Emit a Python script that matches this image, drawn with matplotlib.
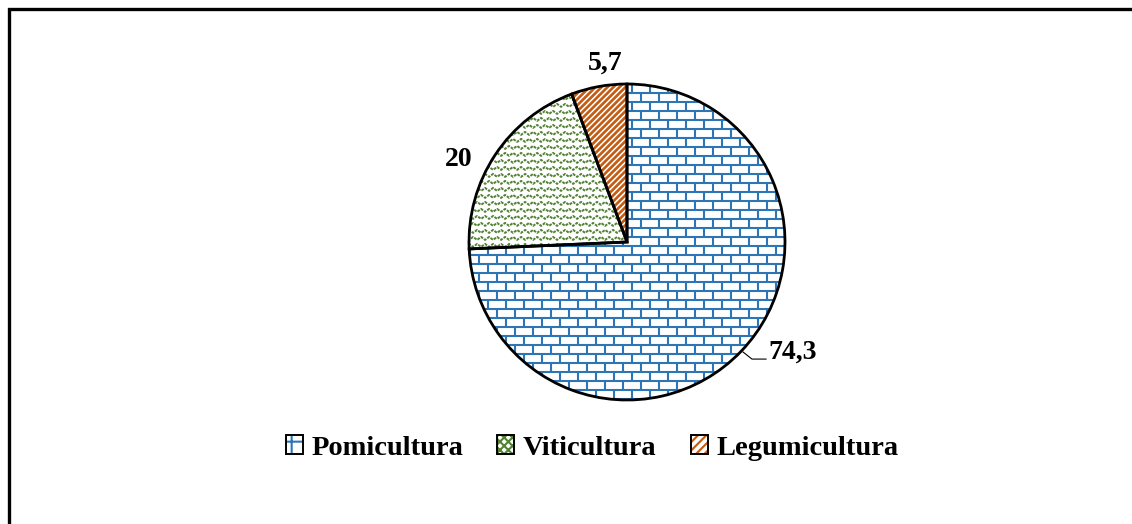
import numpy as np
import matplotlib
matplotlib.use("Agg")
import matplotlib.pyplot as plt
from matplotlib.patches import Patch, Rectangle, Wedge
from matplotlib.collections import LineCollection
from matplotlib.legend_handler import HandlerTuple

# data
categories = ["Pomicultura", "Viticultura", "Legumicultura"]
shares = [74.3, 20, 5.7]
share_labels = ["74,3", "20", "5,7"]

blue = "#2E75B6"
green = "#548235"
orange = "#C55A11"

plt.rcParams['font.family'] = ['Liberation Serif', 'DejaVu Serif']
plt.rcParams['font.weight'] = 'bold'
plt.rcParams['hatch.linewidth'] = 1.5

W, H = 1132, 524
fig = plt.figure(figsize=(W / 100, H / 100), dpi=100)

# outer frame (only left/top visible in the crop)
fig.patches.append(Rectangle((9 / W, -0.1), 1.2, 1 - 9 / H + 0.1, transform=fig.transFigure,
                             fill=False, ec="black", lw=2.4, zorder=10))

cx, cy, R = 627, 242, 158
ax = fig.add_axes([(cx - R) / W, (H - cy - R) / H, 2 * R / W, 2 * R / H])
wedges, _ = ax.pie(shares, startangle=90, counterclock=False, colors=["white"] * 3,
                   wedgeprops=dict(edgecolor="none", linewidth=0))
ax.set_xlim(-1, 1)
ax.set_ylim(-1, 1)
ax.set_aspect("equal")
ax.axis("off")

# outlines on top of the patterns
for w in wedges:
    ax.add_patch(Wedge(w.center, w.r, w.theta1, w.theta2, fill=False,
                       edgecolor="black", linewidth=2.0, zorder=5, clip_on=False))

px = 1 / R  # one pixel in data units

# brick pattern for Pomicultura
segs = []
rh, bw = 9 * px, 18 * px
rows = np.arange(-1.05, 1.05, rh)
for i, y in enumerate(rows):
    segs.append([(-1.05, y), (1.05, y)])
    off = 0 if i % 2 == 0 else bw / 2
    for x in np.arange(-1.05 + off, 1.05, bw):
        segs.append([(x, y), (x, y + rh)])
lc = LineCollection(segs, colors=blue, linewidths=1.5, zorder=2)
ax.add_collection(lc)
lc.set_clip_path(wedges[0])

# wavy weave for Viticultura
segs = []
step = 7 * px
for j, y in enumerate(np.arange(-1.05, 1.05, step)):
    xs = np.arange(-1.05, 1.05, 4 * px) + (j % 2) * 4 * px
    ys = y + np.where(np.arange(len(xs)) % 2 == 0, 0, 3 * px)
    segs.append(list(zip(xs, ys)))
lc = LineCollection(segs, colors=green, linewidths=1.4, linestyles=(0, (1.5, 0.6)), zorder=2)
ax.add_collection(lc)
lc.set_clip_path(wedges[1])

# diagonal stripes for Legumicultura
segs = []
sp = 6 * px
for c in np.arange(-2.2, 2.2, sp):
    segs.append([(-1.1, -1.1 + c), (1.1, 1.1 + c)])
lc = LineCollection(segs, colors=orange, linewidths=1.9, zorder=2)
ax.add_collection(lc)
lc.set_clip_path(wedges[2])

# data labels
lab_fs = 20
ax.text(0.892, -0.70, share_labels[0], fontsize=lab_fs, fontweight="bold",
        ha="left", va="center", clip_on=False)
ax.plot([0.734, 0.791, 0.88], [-0.696, -0.741, -0.741], color="black", lw=0.8, clip_on=False)
ax.text((459 - cx) / R, (cy - 160) / R, share_labels[1], fontsize=lab_fs, fontweight="bold",
        ha="center", va="center", clip_on=False)
ax.text((605 - cx) / R, (cy - 63) / R, share_labels[2], fontsize=lab_fs, fontweight="bold",
        ha="center", va="center", clip_on=False)

# legend
hatch_styles = ["+", "xxxx", "////"]
cols = [blue, green, orange]
handles = []
for h, c in zip(hatch_styles, cols):
    handles.append((Patch(facecolor="white", edgecolor=c, hatch=h, lw=0),
                    Patch(facecolor="none", edgecolor="black", lw=1.4)))
fig.legend(handles, categories, handler_map={tuple: HandlerTuple(ndivide=1)},
           loc="center", bbox_to_anchor=(592 / W, 1 - 448 / H), ncol=3, frameon=False,
           prop=dict(family="Liberation Serif", weight="bold", size=20.5),
           handlelength=0.6, handleheight=0.6, handletextpad=0.3, columnspacing=1.2)

fig.savefig("out.png", dpi=100)
